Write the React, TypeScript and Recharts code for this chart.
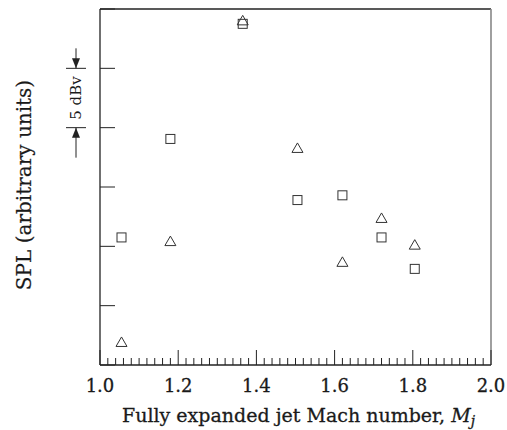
import { ScatterChart, Scatter, XAxis, YAxis, ReferenceLine, ReferenceArea } from 'recharts'

// Fully expanded jet Mach number vs SPL (arbitrary units, 1 unit = 5 dB)
const squareMach = [1.055, 1.18, 1.365, 1.505, 1.62, 1.72, 1.805]
const squareSpl = [2.15, 3.81, 5.75, 2.78, 2.86, 2.15, 1.62]

const triangleMach = [1.055, 1.18, 1.365, 1.505, 1.62, 1.72, 1.805]
const triangleSpl = [0.38, 2.08, 5.8, 3.65, 1.73, 2.47, 2.02]

const xMajorTicks = [1.0, 1.2, 1.4, 1.6, 1.8, 2.0]
const xTickLabels = ['1.0', '1.2', '1.4', '1.6', '1.8', '2.0']
const yTicks = [0, 1, 2, 3, 4, 5, 6]

const squares = squareMach.map((m, i) => ({ x: m, y: squareSpl[i] }))
const triangles = triangleMach.map((m, i) => ({ x: m, y: triangleSpl[i] }))

// minor ticks every 0.02 between the majors
const xAllTicks: number[] = []
for (let i = 0; i < xMajorTicks.length - 1; i++) {
    for (let k = 0; k < 20; k += 2) {
        xAllTicks.push(Math.round((xMajorTicks[i] + k / 100) * 100) / 100)
    }
}
xAllTicks.push(xMajorTicks[xMajorTicks.length - 1])

const FONT = '"DejaVu Serif", serif'
const INK = '#222'
const TEXT = '#1a1a1a'

function XTick(props: any) {
    const { x, y, payload } = props
    const v = payload.value
    const idx = xMajorTicks.findIndex((t) => Math.abs(t - v) < 1e-6)
    const major = idx >= 0
    return (
        <g>
            <line x1={x} x2={x} y1={y} y2={y - (major ? 15 : 7)} stroke={INK} strokeWidth={1} />
            {major ? (
                <text
                    x={x}
                    y={y + 27}
                    textAnchor="middle"
                    fontFamily={FONT}
                    fontSize={18}
                    fill={TEXT}
                    stroke={TEXT}
                    strokeWidth={0.3}
                >
                    {xTickLabels[idx]}
                </text>
            ) : null}
        </g>
    )
}

function YTick(props: any) {
    const { x, y } = props
    return <line x1={x} x2={x + 15} y1={y} y2={y} stroke={INK} strokeWidth={1} />
}

function SquareMark(props: any) {
    const { cx, cy } = props
    return <rect x={cx - 4.5} y={cy - 4.5} width={9} height={9} fill="none" stroke="#333" strokeWidth={1} />
}

function TriangleMark(props: any) {
    const { cx, cy } = props
    return (
        <path
            d={`M${cx},${cy - 5.5} L${cx + 5.5},${cy + 4} L${cx - 5.5},${cy + 4} Z`}
            fill="none"
            stroke="#333"
            strokeWidth={1}
        />
    )
}

function DbMarker(props: any) {
    const { viewBox } = props
    const top = viewBox.y
    const bot = viewBox.y + viewBox.height
    const cx = viewBox.x - 24
    return (
        <g stroke={INK} fill={INK}>
            <line x1={cx} x2={cx} y1={top - 20} y2={top} strokeWidth={1} />
            <path d={`M${cx - 4},${top - 10} L${cx + 4},${top - 10} L${cx},${top} Z`} stroke="none" />
            <line x1={cx - 10} x2={cx + 10} y1={top} y2={top} strokeWidth={1} />
            <line x1={cx} x2={cx} y1={bot} y2={bot + 30} strokeWidth={1} />
            <path d={`M${cx - 4},${bot + 10} L${cx + 4},${bot + 10} L${cx},${bot} Z`} stroke="none" />
            <line x1={cx - 10} x2={cx + 10} y1={bot} y2={bot} strokeWidth={1} />
            <text
                x={cx + 5}
                y={(top + bot) / 2}
                transform={`rotate(-90 ${cx + 5} ${(top + bot) / 2})`}
                textAnchor="middle"
                fontFamily={FONT}
                fontSize={15}
                stroke="none"
                fill={TEXT}
            >
                5 dBv
            </text>
        </g>
    )
}

function YTitle(props: any) {
    const { viewBox } = props
    const cy = viewBox.y + viewBox.height / 2 - 2
    const cx = 31
    return (
        <text
            x={cx}
            y={cy}
            transform={`rotate(-90 ${cx} ${cy})`}
            textAnchor="middle"
            fontFamily={FONT}
            fontSize={20}
            fill={TEXT}
            stroke={TEXT}
            strokeWidth={0.2}
        >
            SPL (arbitrary units)
        </text>
    )
}

function XTitle(props: any) {
    const { viewBox } = props
    const cx = viewBox.x + viewBox.width / 2 + 3
    return (
        <text
            x={cx}
            y={viewBox.y + 57}
            textAnchor="middle"
            fontFamily={FONT}
            fontSize={19}
            fill={TEXT}
            stroke={TEXT}
            strokeWidth={0.3}
        >
            Fully expanded jet Mach number,{' '}
            <tspan fontStyle="italic">M</tspan>
            <tspan fontStyle="italic" fontSize={14} dy={4}>
                j
            </tspan>
        </text>
    )
}

export default function App() {
    return (
        <div style={{ position: 'absolute', left: 0, top: 0, background: '#fff' }}>
            <ScatterChart width={507} height={430} margin={{ left: 0, right: 16, top: 9, bottom: 0 }}>
                <XAxis
                    type="number"
                    dataKey="x"
                    domain={[1, 2]}
                    ticks={xAllTicks}
                    interval={0}
                    height={65}
                    tickSize={0}
                    tickMargin={0}
                    tick={<XTick />}
                    axisLine={{ stroke: INK, strokeWidth: 1.3 }}
                    label={<XTitle />}
                />
                <YAxis
                    type="number"
                    dataKey="y"
                    domain={[0, 6]}
                    ticks={yTicks}
                    interval={0}
                    width={100}
                    tickSize={0}
                    tickMargin={0}
                    tick={<YTick />}
                    axisLine={{ stroke: INK, strokeWidth: 1.3 }}
                    label={<YTitle />}
                />
                <ReferenceLine y={6} stroke={INK} strokeWidth={1.3} />
                <ReferenceLine x={2} stroke="#888" strokeWidth={1.6} />
                <ReferenceArea y1={4} y2={5} fill="none" stroke="none" ifOverflow="visible" label={<DbMarker />} />
                <Scatter data={squares} shape={<SquareMark />} isAnimationActive={false} />
                <Scatter data={triangles} shape={<TriangleMark />} isAnimationActive={false} />
            </ScatterChart>
        </div>
    )
}
